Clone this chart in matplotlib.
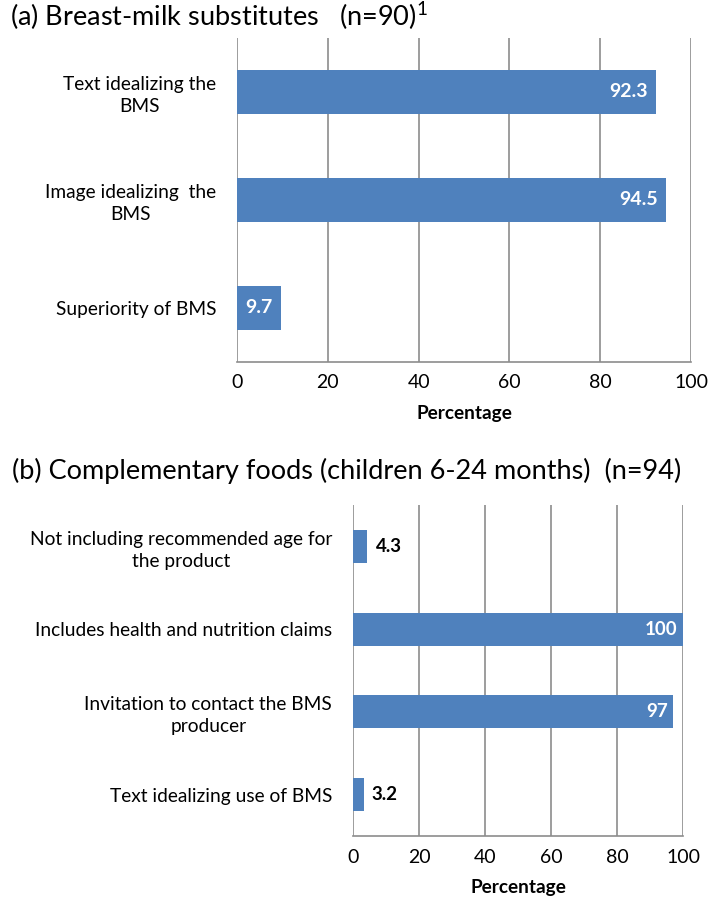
import matplotlib
matplotlib.use("Agg")
import matplotlib.pyplot as plt

plt.rcParams['font.family'] = ['Lato', 'DejaVu Sans']
plt.rcParams['mathtext.fontset'] = 'custom'
plt.rcParams['mathtext.rm'] = 'Lato'

# (a) breast-milk substitutes
cats_a = ["Text idealizing the\nBMS", "Image idealizing  the\nBMS", "Superiority of BMS"]
vals_a = [92.3, 94.5, 9.7]

# (b) complementary foods
cats_b = ["Not including recommended age for\nthe product",
          "Includes health and nutrition claims",
          "Invitation to contact the BMS\nproducer",
          "Text idealizing use of BMS"]
vals_b = [4.3, 100, 97, 3.2]

ticks = [0, 20, 40, 60, 80, 100]
BAR = '#4F81BD'
GRID = '#8c8c8c'

fig = plt.figure(figsize=(7.09, 9.00), dpi=100)
ax1 = fig.add_axes([0.3343, 0.5978, 0.6403, 0.36])
ax2 = fig.add_axes([0.4979, 0.0711, 0.4654, 0.3678])


def style(ax, cats, vals):
    y = list(range(len(cats)))
    ax.barh(y, vals, height=0.4, color=BAR, zorder=3)
    ax.set_ylim(len(cats) - 0.5, -0.5)
    ax.set_xlim(0, 100)
    ax.set_xticks(ticks)
    ax.set_yticks(y)
    ax.set_yticklabels(cats, fontsize=13.8, linespacing=1.35)
    for t in ax.get_yticklabels():
        t.set_multialignment('center')
    ax.tick_params(axis='y', length=0, pad=15)
    ax.tick_params(axis='x', length=0, pad=9, labelsize=14)
    ax.grid(axis='x', color=GRID, lw=1.2, zorder=0)
    for s in ['top', 'right', 'left']:
        ax.spines[s].set_visible(False)
    ax.spines['bottom'].set_color(GRID)
    ax.spines['bottom'].set_linewidth(1.2)
    ax.set_xlabel('Percentage', fontsize=13.7, fontweight='bold', labelpad=10)
    return y


y1 = style(ax1, cats_a, vals_a)
for yi, v in zip(y1, vals_a):
    if v > 20:
        ax1.annotate(f"{v}", (v, yi), xytext=(-6, 0), textcoords='offset points',
                     ha='right', va='center', color='white', fontsize=14, fontweight='bold', zorder=4)
    else:
        ax1.annotate(f"{v}", (v / 2, yi), ha='center', va='center',
                     color='white', fontsize=14, fontweight='bold', zorder=4)

y2 = style(ax2, cats_b, vals_b)
for yi, v in zip(y2, vals_b):
    txt = f"{v:g}"
    if v > 20:
        ax2.annotate(txt, (v, yi), xytext=(-4, 0), textcoords='offset points',
                     ha='right', va='center', color='white', fontsize=13.5, fontweight='bold', zorder=4)
    else:
        ax2.annotate(txt, (v, yi), xytext=(6, 0), textcoords='offset points',
                     ha='left', va='center', color='black', fontsize=13.5, fontweight='bold', zorder=4)

fig.text(10 / 709, 1 - 16 / 900, "(a) Breast-milk substitutes   (n=90)$^{1}$",
         fontsize=19.5, ha='left', va='center')
fig.text(12 / 709, 1 - 471 / 900, "(b) Complementary foods (children 6-24 months)  (n=94)",
         fontsize=19.5, ha='left', va='center')

fig.savefig('out.png', dpi=100)
